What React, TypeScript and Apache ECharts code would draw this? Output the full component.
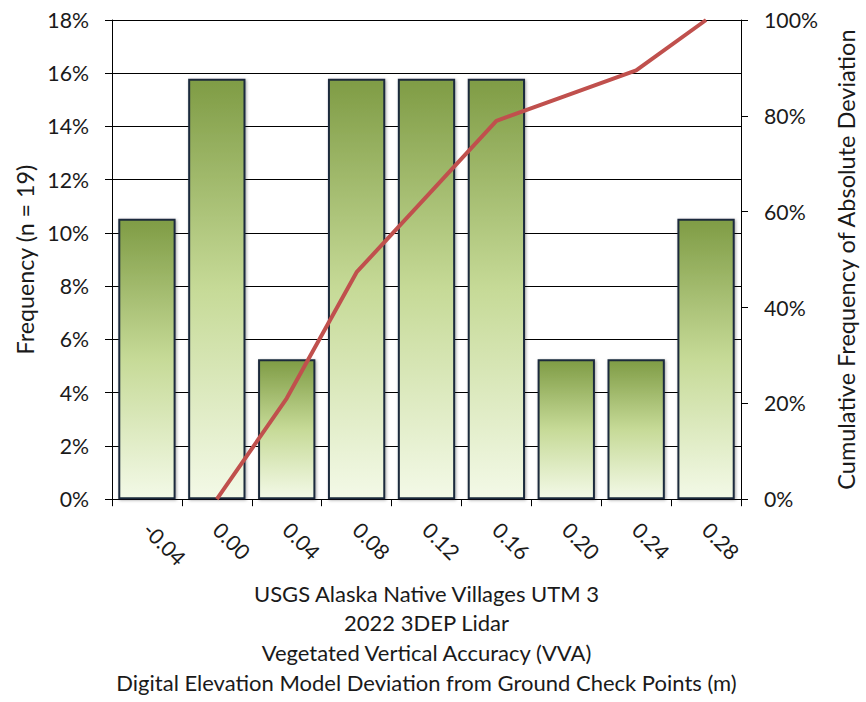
import React, { useEffect, useRef } from "react";
import * as echarts from "echarts";

const categories = ["-0.04", "0.00", "0.04", "0.08", "0.12", "0.16", "0.20", "0.24", "0.28"];
const frequency = [10.53, 15.79, 5.26, 15.79, 15.79, 15.79, 5.26, 5.26, 10.53];
const cumulative = [null, 0, 21.05, 47.37, 63.16, 78.95, 84.21, 89.47, 100];
const leftTicks = { min: 0, max: 18, interval: 2 };
const rightTicks = { min: 0, max: 100, interval: 20 };
const xTitleLines = [
  "USGS Alaska Native Villages UTM 3",
  "2022 3DEP Lidar",
  "Vegetated Vertical Accuracy (VVA)",
  "Digital Elevation Model Deviation from Ground Check Points (m)",
];
const leftName = "Frequency (n = 19)";
const rightName = "Cumulative Frequency of Absolute Deviation";

const FONT = "Lato";
const TXT = "#1a1a1a";

function fitSize(text: string, target: number, fallback: number): number {
  try {
    const c = document.createElement("canvas");
    const ctx = c.getContext("2d");
    if (!ctx) return fallback;
    ctx.font = `100px ${FONT}`;
    const w = ctx.measureText(text).width;
    if (!w) return fallback;
    const s = (100 * target) / w;
    return Math.max(18, Math.min(28, Math.round(s * 4) / 4));
  } catch (e) {
    return fallback;
  }
}

export default function App() {
  const ref = useRef<HTMLDivElement>(null);
  useEffect(() => {
    const tickFS = fitSize("18%", 41.6, 22);
    const titleFS = fitSize(xTitleLines[0], 347, 23);
    const leftFS = fitSize(leftName, 190, 23);
    const rightFS = fitSize(rightName, 460, 23);
    const chart = echarts.init(ref.current!, null, { renderer: "svg" });
    chart.setOption({
      animation: false,
      textStyle: { fontFamily: FONT, color: TXT },
      grid: { left: 112, right: 116, top: 20, bottom: 195, containLabel: false },
      xAxis: {
        type: "category",
        data: categories,
        boundaryGap: true,
        axisLine: { show: true, lineStyle: { color: "#000", width: 1 } },
        axisTick: { show: true, length: 7, lineStyle: { color: "#000" } },
        axisLabel: {
          rotate: -45,
          margin: 27,
          fontSize: tickFS,
          fontFamily: FONT,
          color: TXT,
        },
        name: xTitleLines.join("\n"),
        nameLocation: "middle",
        nameGap: 79,
        nameTextStyle: { fontSize: titleFS, fontFamily: FONT, color: TXT, lineHeight: 29.7, align: "center" },
      },
      yAxis: [
        {
          type: "value",
          min: leftTicks.min,
          max: leftTicks.max,
          interval: leftTicks.interval,
          axisLine: { show: true, lineStyle: { color: "#000", width: 1 } },
          axisTick: { show: true, length: 7, lineStyle: { color: "#000" } },
          splitLine: { show: true, lineStyle: { color: "#000", width: 1 } },
          axisLabel: { formatter: "{value}%", fontSize: tickFS, margin: 23, color: TXT, fontFamily: FONT },
          name: leftName,
          nameLocation: "middle",
          nameGap: 76,
          nameRotate: 90,
          nameTextStyle: { fontSize: leftFS, color: TXT, fontFamily: FONT },
        },
        {
          type: "value",
          position: "right",
          min: rightTicks.min,
          max: rightTicks.max,
          interval: rightTicks.interval,
          axisLine: { show: true, lineStyle: { color: "#000", width: 1 } },
          axisTick: { show: true, length: 7, lineStyle: { color: "#000" } },
          splitLine: { show: false },
          axisLabel: { formatter: "{value}%", fontSize: tickFS, margin: 23, color: TXT, fontFamily: FONT },
          name: rightName,
          nameLocation: "middle",
          nameGap: 93,
          nameRotate: 90,
          nameTextStyle: { fontSize: rightFS, color: TXT, fontFamily: FONT },
        },
      ],
      series: [
        {
          type: "bar",
          data: frequency,
          yAxisIndex: 0,
          barCategoryGap: "18%",
          itemStyle: {
            color: new echarts.graphic.LinearGradient(0, 0, 0, 1, [
              { offset: 0, color: "#7f9c45" },
              { offset: 0.5, color: "#c6da97" },
              { offset: 1, color: "#f3f9e7" },
            ]),
            borderColor: "#1c2b3d",
            borderWidth: 2,
            shadowColor: "rgba(0,0,0,0.35)",
            shadowBlur: 3,
            shadowOffsetX: 1,
            shadowOffsetY: 1,
          },
        },
        {
          type: "line",
          data: cumulative,
          yAxisIndex: 1,
          symbol: "none",
          connectNulls: false,
          lineStyle: { color: "#c0504d", width: 4 },
        },
      ],
    });
    return () => chart.dispose();
  }, []);
  return <div ref={ref} style={{ width: 866, height: 702, position: "absolute", left: 0, top: 0 }} />;
}
